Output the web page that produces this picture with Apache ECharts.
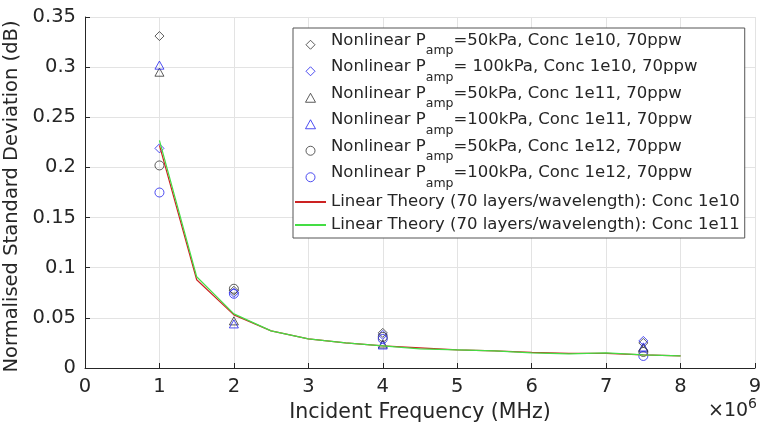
<!DOCTYPE html>
<html>
<head>
<meta charset="utf-8">
<script src="https://cdn.jsdelivr.net/npm/echarts@6/dist/echarts.min.js"></script>
<style>
  html, body { margin: 0; padding: 0; background: #fff; }
  #chart { width: 762px; height: 428px; }
</style>
</head>
<body>
<div id="chart"></div>
<script>
// nonlinear simulation frequencies (MHz)
var freqs = [1, 2, 4, 7.5];
var nl50_1e10 = [0.331, 0.077, 0.035, 0.025];
var nl100_1e10 = [0.219, 0.075, 0.033, 0.027];
var nl50_1e11 = [0.295, 0.047, 0.024, 0.020];
var nl100_1e11 = [0.302, 0.044, 0.023, 0.021];
var nl50_1e12 = [0.202, 0.079, 0.031, 0.016];
var nl100_1e12 = [0.175, 0.074, 0.029, 0.012];

// linear theory curves
var theoryFreqs = [1, 1.5, 2, 2.5, 3, 3.5, 4, 4.5, 5, 5.5, 6, 6.5, 7, 7.5, 8];
var linear1e10 = [0.222, 0.088, 0.053, 0.037, 0.029, 0.025, 0.022, 0.020, 0.018, 0.017, 0.0155, 0.0145, 0.0145, 0.013, 0.012];
var linear1e11 = [0.227, 0.091, 0.054, 0.037, 0.029, 0.025, 0.022, 0.019, 0.018, 0.017, 0.015, 0.014, 0.015, 0.013, 0.012];

var yTicks = [0, 0.05, 0.1, 0.15, 0.2, 0.25, 0.3, 0.35];

var FONT = 'DejaVu Sans';
var TXT = '#262626';
var BLACK = '#333333';
var BLUE = '#2222ee';
var DIAMOND = 'path://M5,0L10,5L5,10L0,5Z';
var TRIANGLE = 'path://M5,0L10,9L0,9Z';

function pairs(xs, ys) {
  return xs.map(function (x, i) { return [x, ys[i]]; });
}

function scatter(name, ys, symbol, color) {
  return {
    name: name,
    type: 'scatter',
    symbol: symbol,
    symbolSize: 9,
    symbolKeepAspect: true,
    itemStyle: { color: 'rgba(255,255,255,0)', borderColor: color, borderWidth: 1 },
    data: pairs(freqs, ys)
  };
}

function theory(name, ys, color) {
  return {
    name: name,
    type: 'line',
    symbol: 'none',
    lineStyle: { color: color, width: 1.2 },
    itemStyle: { color: 'rgba(0,0,0,0)', borderColor: 'rgba(0,0,0,0)' },
    data: pairs(theoryFreqs, ys)
  };
}

var chart = echarts.init(document.getElementById('chart'));
var option = {
  animation: false,
  textStyle: { fontFamily: FONT },
  grid: { left: 85, right: 7, top: 17, bottom: 60, outerBoundsMode: 'none' },
  xAxis: {
    type: 'value',
    min: 0, max: 9, interval: 1,
    name: 'Incident Frequency (MHz)',
    nameLocation: 'middle',
    nameGap: 32,
    nameTextStyle: { fontSize: 20.5, color: TXT, fontFamily: FONT },
    axisLine: { show: true, lineStyle: { color: TXT, width: 1 } },
    axisTick: { show: true, inside: true, length: 5, lineStyle: { color: TXT } },
    axisLabel: { fontSize: 19.5, color: TXT, margin: 9, fontFamily: FONT },
    splitLine: { show: true, lineStyle: { color: '#e3e3e3', width: 1 } }
  },
  yAxis: {
    type: 'value',
    min: 0, max: 0.35, interval: 0.05,
    name: 'Normalised Standard Deviation (dB)',
    nameLocation: 'middle',
    nameGap: 57,
    nameTextStyle: { fontSize: 19.5, color: TXT, fontFamily: FONT, padding: [0, 8, 0, 0] },
    axisLine: { show: true, lineStyle: { color: TXT, width: 1 } },
    axisTick: { show: true, inside: true, length: 5, lineStyle: { color: TXT } },
    axisLabel: {
      fontSize: 19.5, color: TXT, margin: 9, fontFamily: FONT,
      formatter: function (v) {
        var best = yTicks.reduce(function (a, b) { return Math.abs(b - v) < Math.abs(a - v) ? b : a; });
        return String(best);
      }
    },
    splitLine: { show: true, lineStyle: { color: '#e3e3e3', width: 1 } }
  },
  legend: {
    orient: 'vertical',
    left: 293,
    top: 28,
    padding: [4, 5, 2, 1],
    itemGap: 1,
    itemWidth: 31,
    itemHeight: 9,
    backgroundColor: '#fff',
    borderColor: '#555',
    borderWidth: 1,
    borderRadius: 0,
    itemStyle: { borderWidth: 1 },
    textStyle: {
      color: TXT,
      fontFamily: FONT,
      fontSize: 16.5,
      lineHeight: 22,
      rich: {
        t: { fontSize: 16.5, lineHeight: 25.5, verticalAlign: 'top', color: TXT, fontFamily: FONT },
        s: { fontSize: 12.5, lineHeight: 25.5, verticalAlign: 'bottom', color: TXT, fontFamily: FONT },
        u: { fontSize: 16.5, lineHeight: 22, color: TXT, fontFamily: FONT }
      }
    },
    formatter: function (name) {
      var i = name.indexOf('P_amp');
      if (i < 0) return '{u|' + name + '}';
      return '{t|' + name.slice(0, i) + 'P}{s|amp}{t|' + name.slice(i + 5) + '}';
    }
  },
  graphic: [{
    type: 'text',
    right: 5,
    top: 397,
    style: {
      text: '{a|\u00d710}{b|6}',
      rich: {
        a: { fontSize: 19, fontFamily: FONT, fill: TXT, lineHeight: 24, verticalAlign: 'bottom' },
        b: { fontSize: 14, fontFamily: FONT, fill: TXT, lineHeight: 24, verticalAlign: 'top' }
      }
    }
  }],
  series: [
    scatter('Nonlinear P_amp=50kPa, Conc 1e10, 70ppw', nl50_1e10, DIAMOND, BLACK),
    scatter('Nonlinear P_amp= 100kPa, Conc 1e10, 70ppw', nl100_1e10, DIAMOND, BLUE),
    scatter('Nonlinear P_amp=50kPa, Conc 1e11, 70ppw', nl50_1e11, TRIANGLE, BLACK),
    scatter('Nonlinear P_amp=100kPa, Conc 1e11, 70ppw', nl100_1e11, TRIANGLE, BLUE),
    scatter('Nonlinear P_amp=50kPa, Conc 1e12, 70ppw', nl50_1e12, 'circle', BLACK),
    scatter('Nonlinear P_amp=100kPa, Conc 1e12, 70ppw', nl100_1e12, 'circle', BLUE),
    theory('Linear Theory (70 layers/wavelength): Conc 1e10', linear1e10, '#cc2222'),
    theory('Linear Theory (70 layers/wavelength): Conc 1e11', linear1e11, '#44dd44')
  ]
};
chart.setOption(option);
</script>
</body>
</html>
